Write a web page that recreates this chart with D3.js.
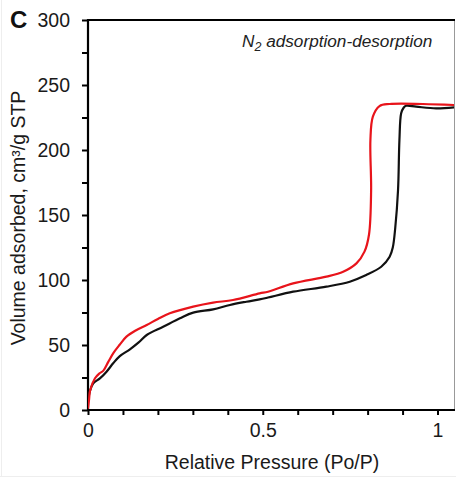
<!DOCTYPE html>
<html>
<head>
<meta charset="utf-8">
<script src="https://cdn.jsdelivr.net/npm/d3@7"></script>
<style>
  html, body { margin: 0; padding: 0; background: #fff; }
  svg { display: block; font-family: "Liberation Sans", Arial, sans-serif; }
</style>
</head>
<body>
<svg id="chart" width="456" height="480"></svg>
<script>
// ---- data ----
const adsorptionP = [0, 0.005, 0.015, 0.034, 0.053, 0.072, 0.091, 0.12, 0.145, 0.168, 0.215, 0.263, 0.301, 0.358, 0.406, 0.453, 0.491, 0.515, 0.587, 0.682, 0.749, 0.796, 0.839, 0.863, 0.872, 0.879, 0.887, 0.891, 0.896, 0.903, 0.91, 0.939, 0.996, 1.05];
const adsorptionV = [7, 14, 20.5, 24.3, 29.5, 35.9, 41.5, 46.7, 52, 57.7, 64, 70.5, 74.9, 77.4, 80.8, 83.3, 85.1, 86.5, 91, 94.9, 98.7, 103.8, 110.2, 117.9, 125, 140, 169, 207.7, 228.2, 232.5, 234, 233.3, 232, 232.8];
const desorptionP = [0, 0.003, 0.006, 0.02, 0.032, 0.044, 0.058, 0.072, 0.09, 0.11, 0.135, 0.168, 0.2, 0.234, 0.301, 0.358, 0.415, 0.491, 0.515, 0.587, 0.682, 0.73, 0.768, 0.791, 0.804, 0.81, 0.808, 0.815, 0.834, 0.863, 0.958, 1.05];
const desorptionV = [1, 8, 15, 24.4, 28, 30.3, 37, 43.6, 50, 56.4, 61, 65.4, 70, 74.4, 79.5, 82.6, 84.6, 89.7, 91, 97.4, 102.6, 106.4, 112.8, 121.8, 135, 169, 207.7, 225.6, 233.8, 235.4, 235.4, 234.6];
const xMajorTicks = [0, 0.5, 1];
const xTickLabels = ["0", "0.5", "1"];
const yMajorTicks = [0, 50, 100, 150, 200, 250, 300];
const panelLabel = "C";
const annotation = "adsorption-desorption";
const xTitle = "Relative Pressure (Po/P)";
const yTitle = "Volume adsorbed, cm\u00B3/g STP";

// ---- layout ----
const svg = d3.select("#chart");
const mLeft = 88, mRight = 455, mTop = 20, mBottom = 410;
const x = d3.scaleLinear().domain([0, 1.05]).range([mLeft, mRight]);
const y = d3.scaleLinear().domain([0, 300]).range([mBottom, mTop]);

// faint picture frame
svg.append("line").attr("x1", 1.5).attr("x2", 1.5).attr("y1", 0).attr("y2", 477).attr("stroke", "#eee");
svg.append("line").attr("x1", 0).attr("x2", 456).attr("y1", 476.5).attr("y2", 476.5).attr("stroke", "#eee");

// right & top border
svg.append("line").attr("x1", 454.5).attr("x2", 454.5).attr("y1", mTop).attr("y2", mBottom)
  .attr("stroke", "#999").attr("stroke-width", 1);
svg.append("line").attr("x1", mLeft).attr("x2", 455).attr("y1", mTop).attr("y2", mTop)
  .attr("stroke", "#000").attr("stroke-width", 2.2);

// x axis
const xAxis = d3.axisBottom(x).tickValues(d3.range(0, 1.001, 0.1)).tickSize(5)
  .tickFormat(d => { const i = xMajorTicks.findIndex(t => Math.abs(t - d) < 1e-9); return i >= 0 ? xTickLabels[i] : ""; });
const gx = svg.append("g").attr("transform", `translate(0,${mBottom})`).call(xAxis);
gx.select(".domain").attr("d", `M${mLeft - 1},0H${mRight}`).attr("stroke-width", 2.2);
gx.selectAll(".tick line").attr("stroke-width", 2);
gx.selectAll(".tick text").attr("font-size", 19.5).attr("fill", "#1a1a1a").attr("dy", "0.71em").attr("y", 13)
  .attr("font-family", "Liberation Sans, Arial, sans-serif");

// y axis
const yAxis = d3.axisLeft(y).tickValues(d3.range(0, 301, 25)).tickSize(6)
  .tickFormat(d => yMajorTicks.includes(d) ? String(d) : "");
const gy = svg.append("g").attr("transform", `translate(${mLeft},0)`).call(yAxis);
gy.select(".domain").attr("d", `M0,${mBottom + 1}V${mTop - 1}`).attr("stroke-width", 2.2);
gy.selectAll(".tick line").attr("stroke-width", 2);
gy.selectAll(".tick text").attr("font-size", 19.5).attr("fill", "#1a1a1a").attr("x", -18)
  .attr("font-family", "Liberation Sans, Arial, sans-serif");

// curves
const line = d3.line().x(d => x(d[0])).y(d => y(d[1])).curve(d3.curveCatmullRom.alpha(0.5));
const ads = adsorptionP.map((p, i) => [p, adsorptionV[i]]);
const des = desorptionP.map((p, i) => [p, desorptionV[i]]);
svg.append("clipPath").attr("id", "clip").append("rect")
  .attr("x", mLeft).attr("y", mTop).attr("width", 454 - mLeft).attr("height", mBottom - mTop);
svg.append("path").datum(ads).attr("d", line).attr("fill", "none").attr("stroke", "#111")
  .attr("stroke-width", 2.2).attr("clip-path", "url(#clip)");
svg.append("path").datum(des).attr("d", line).attr("fill", "none").attr("stroke", "#e8141b")
  .attr("stroke-width", 2.2).attr("clip-path", "url(#clip)");

// texts
svg.append("text").attr("x", 10).attr("y", 28).attr("font-size", 24).attr("font-weight", "bold")
  .attr("fill", "#111").text(panelLabel);

const ann = svg.append("text").attr("x", 242).attr("y", 47).attr("font-size", 17.2)
  .attr("font-style", "italic").attr("fill", "#222");
ann.append("tspan").text("N");
ann.append("tspan").attr("font-size", 12.5).attr("dy", 4).text("2");
ann.append("tspan").attr("dy", -4).text(" " + annotation);

svg.append("text").attr("x", 272).attr("y", 469).attr("text-anchor", "middle").attr("font-size", 19.5)
  .attr("fill", "#1a1a1a").text(xTitle);

svg.append("text").attr("transform", "translate(25,218) rotate(-90)").attr("text-anchor", "middle")
  .attr("font-size", 19.5).attr("fill", "#1a1a1a").text(yTitle);
</script>
</body>
</html>
